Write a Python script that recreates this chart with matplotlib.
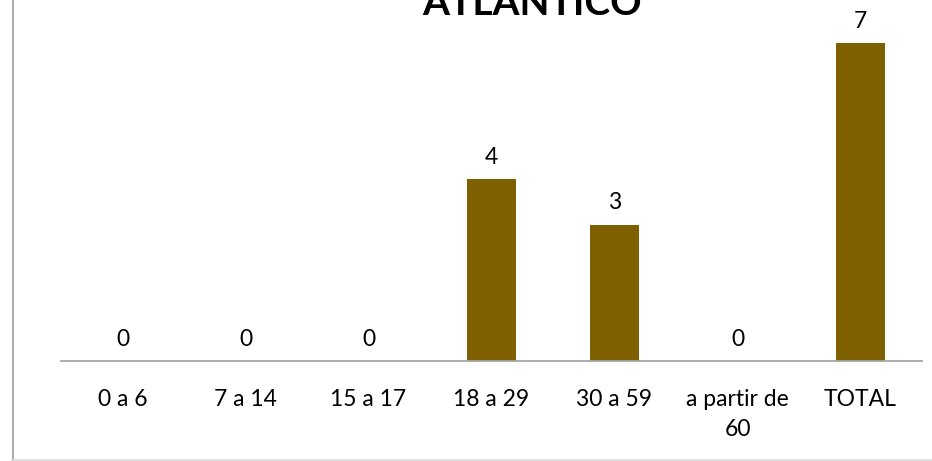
import matplotlib
matplotlib.use("Agg")
import matplotlib.pyplot as plt
from matplotlib.lines import Line2D

categories = ["0 a 6", "7 a 14", "15 a 17", "18 a 29", "30 a 59", "a partir de\n60", "TOTAL"]
values = [0, 0, 0, 4, 3, 0, 7]
title = "ATLANTICO"

bar_color = "#7f6000"
axis_color = "#a6a6a6"
font = ["Lato", "DejaVu Sans"]

W, H = 932, 461
fig = plt.figure(figsize=(W / 100, H / 100), dpi=100)
ax = fig.add_axes([61 / W, (H - 361) / H, 861 / W, 361 / H])

x = list(range(len(categories)))
ax.bar(x, values, width=0.4, color=bar_color)
ax.set_xlim(-0.5, len(categories) - 0.5)
ax.set_ylim(0, 361 / 45.45)

for xi, v in zip(x, values):
    ax.annotate(str(v), (xi, v), xytext=(0, 11), textcoords="offset points",
                ha="center", va="baseline", fontsize=16.5, family=font)

ax.set_xticks(x)
ax.set_xticklabels(categories, fontsize=16.5, family=font, linespacing=1.55)
ax.tick_params(axis="x", length=0, pad=20)
ax.set_yticks([])
for s in ["top", "right", "left"]:
    ax.spines[s].set_visible(False)
ax.spines["bottom"].set_color(axis_color)
ax.spines["bottom"].set_linewidth(1.3)

fig.text(532 / W, 1 - 15 / H, title, ha="center", va="baseline",
         fontsize=28, fontweight="bold", family=font)

# chart frame
fig.add_artist(Line2D([12.5 / W, 12.5 / W], [0, 1], color="#a0a0a0", lw=1.2))
fig.add_artist(Line2D([12 / W, 1], [1.5 / H, 1.5 / H], color="#d9d9d9", lw=1.2))

fig.savefig("out.png", dpi=100)
